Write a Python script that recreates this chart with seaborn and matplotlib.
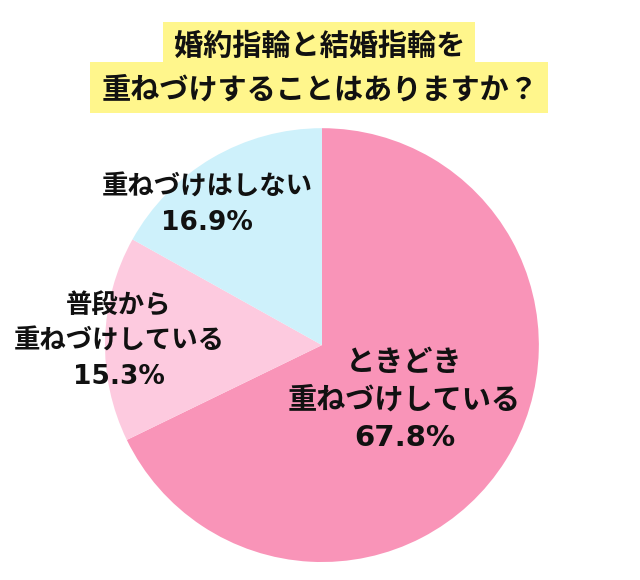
import matplotlib
matplotlib.use("Agg")
import matplotlib.pyplot as plt
from matplotlib.patches import Rectangle
import seaborn as sns

# Data
categories = ["ときどき\n重ねづけしている", "普段から\n重ねづけしている", "重ねづけはしない"]
shares = [67.8, 15.3, 16.9]
title_lines = ["婚約指輪と結婚指輪を", "重ねづけすることはありますか？"]

colors = ["#F994B8", "#FDCADF", "#CEF1FB"]
# label anchor positions (axes data coords, pie radius = 1)
label_pos = [(0.38, -0.255), (-0.935, 0.015), (-0.53, 0.645)]

sns.set_theme(style="white")
plt.rcParams["font.family"] = ["Noto Sans CJK JP", "DejaVu Sans"]

W, H = 640, 580
fig = plt.figure(figsize=(6.4, 5.8), dpi=100)
ax = fig.add_axes([0.164, 0.031, 0.678, 0.748])

wedges, _ = ax.pie(shares, colors=sns.color_palette(colors), startangle=90,
                   counterclock=False, radius=1,
                   wedgeprops=dict(linewidth=0))
ax.set_xlim(-1, 1)
ax.set_ylim(-1, 1)
ax.set_aspect("equal")
ax.axis("off")

for i, (cat, val) in enumerate(zip(categories, shares)):
    x, y = label_pos[i]
    size = 21 if i == 0 else 19
    ax.text(x, y, f"{cat}\n{val}%", ha="center", va="center",
            fontsize=size, fontweight="bold", color="#111111",
            linespacing=1.45,
            family=["DejaVu Sans", "Noto Sans CJK JP"])

# Title with yellow highlight boxes (pixel boxes -> figure fraction)
def px_box(x0, y0, x1, y1):
    return Rectangle((x0 / W, 1 - y1 / H), (x1 - x0) / W, (y1 - y0) / H,
                     transform=fig.transFigure, facecolor="#FFF68C",
                     edgecolor="none", zorder=0)

fig.patches.append(px_box(163, 22, 475, 63))
fig.patches.append(px_box(90, 62, 548, 113))

fig.text(0.5, 1 - 46 / H, title_lines[0], ha="center", va="center",
         fontsize=21, fontweight="bold", color="#111111")
fig.text(0.5, 1 - 90 / H, title_lines[1], ha="center", va="center",
         fontsize=21, fontweight="bold", color="#111111")

fig.savefig("out.png", dpi=100, facecolor="white")
